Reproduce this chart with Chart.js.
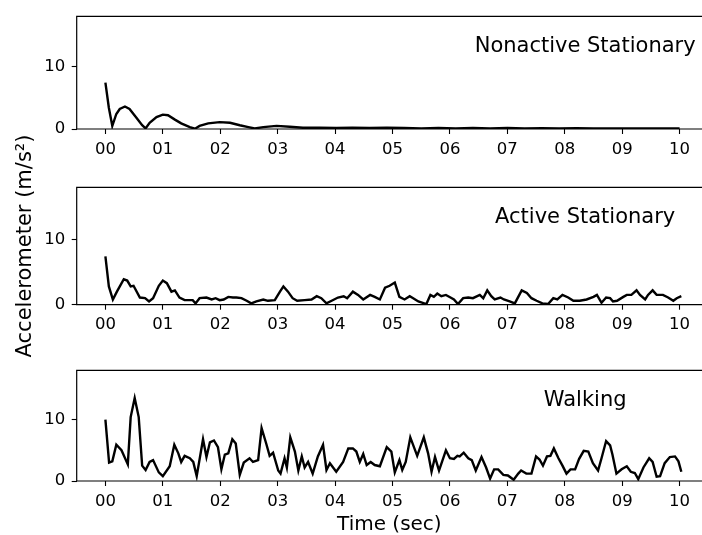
<!DOCTYPE html>
<html><head><meta charset="utf-8">
<script src="https://cdn.jsdelivr.net/npm/chart.js@4.4.1/dist/chart.umd.min.js"></script>
<style>
html,body{margin:0;padding:0;background:#fff;overflow:hidden;width:702px;height:535px;position:relative;}
canvas{position:absolute;left:0;}
</style></head><body>
<canvas id="c0"></canvas>
<canvas id="c1"></canvas>
<canvas id="c2"></canvas>
<script>
// ---- data ----
const xTickValues = [0,1,2,3,4,5,6,7,8,9,10];
const xTickLabels = ['00','01','02','03','04','05','06','07','08','09','10'];
const yTickValues = [0,10];
const panelTitles = ['Nonactive Stationary','Active Stationary','Walking'];
const xAxisTitle = 'Time (sec)';
const yAxisTitle = 'Accelerometer (m/s²)';

const nonactiveTime = [0,0.06,0.12,0.19,0.25,0.34,0.42,0.54,0.64,0.70,0.77,0.89,1.00,1.09,1.21,1.32,1.47,1.56,1.64,1.79,1.99,2.17,2.34,2.49,2.60,2.75,2.98,3.21,3.44,3.73,4.02,4.3,4.6,4.9,5.2,5.5,5.8,6.1,6.4,6.7,7.0,7.3,7.6,7.9,8.2,8.5,8.8,9.1,9.4,9.7,10.0];
const nonactiveAccel = [7.4,3.4,0.5,2.4,3.2,3.6,3.2,1.8,0.6,0.1,1.0,1.9,2.3,2.2,1.5,0.9,0.3,0.05,0.5,0.9,1.1,1.0,0.6,0.3,0.1,0.3,0.5,0.35,0.2,0.2,0.15,0.2,0.15,0.2,0.15,0.1,0.15,0.1,0.15,0.1,0.15,0.1,0.12,0.1,0.12,0.1,0.1,0.08,0.1,0.08,0.08];

const activeTime = [0,0.06,0.13,0.2,0.32,0.38,0.44,0.49,0.6,0.69,0.76,0.83,0.93,1.0,1.07,1.15,1.21,1.29,1.38,1.52,1.57,1.64,1.76,1.85,1.92,1.99,2.06,2.14,2.22,2.28,2.37,2.46,2.54,2.63,2.75,2.83,2.95,3.04,3.10,3.18,3.26,3.34,3.47,3.59,3.68,3.76,3.85,3.94,4.05,4.15,4.21,4.31,4.40,4.49,4.61,4.69,4.78,4.87,4.95,5.04,5.12,5.21,5.30,5.36,5.45,5.59,5.66,5.72,5.78,5.85,5.93,6.01,6.07,6.14,6.23,6.32,6.40,6.52,6.58,6.65,6.72,6.78,6.88,6.94,7.04,7.13,7.25,7.34,7.42,7.51,7.61,7.71,7.80,7.87,7.96,8.06,8.15,8.26,8.38,8.50,8.56,8.64,8.72,8.79,8.84,8.91,9.02,9.08,9.16,9.25,9.31,9.40,9.45,9.53,9.60,9.71,9.80,9.89,9.95,10.03];
const activeAccel = [7.4,2.8,0.8,2.0,3.9,3.7,2.8,2.9,1.1,1.0,0.5,1.0,2.9,3.7,3.3,2.0,2.2,1.1,0.7,0.7,0.2,1.0,1.1,0.8,1.0,0.7,0.8,1.2,1.1,1.1,1.0,0.6,0.2,0.5,0.8,0.6,0.7,2.0,2.8,2.0,1.0,0.6,0.7,0.8,1.3,1.0,0.2,0.6,1.1,1.3,1.0,2.0,1.5,0.8,1.5,1.2,0.8,2.6,2.9,3.4,1.2,0.8,1.3,1.0,0.5,0.1,1.5,1.2,1.7,1.3,1.5,1.1,0.8,0.1,1.0,1.1,1.0,1.5,1.0,2.2,1.3,0.8,1.1,0.8,0.5,0.2,2.2,1.8,1.0,0.6,0.2,0.1,1.0,0.8,1.5,1.1,0.6,0.6,0.8,1.2,1.5,0.3,1.1,1.0,0.5,0.6,1.2,1.5,1.5,2.2,1.5,0.8,1.5,2.2,1.5,1.5,1.1,0.6,1.0,1.3];

const walkingTime = [0,0.064,0.12,0.19,0.28,0.39,0.44,0.51,0.58,0.64,0.70,0.77,0.83,0.93,1.0,1.12,1.2,1.27,1.32,1.38,1.47,1.53,1.59,1.70,1.76,1.82,1.89,1.96,2.02,2.08,2.14,2.21,2.27,2.34,2.41,2.51,2.57,2.66,2.72,2.80,2.86,2.92,3.01,3.05,3.12,3.16,3.22,3.30,3.36,3.42,3.47,3.53,3.61,3.70,3.79,3.85,3.91,4.02,4.14,4.23,4.31,4.37,4.43,4.49,4.55,4.62,4.69,4.78,4.90,4.98,5.04,5.12,5.17,5.23,5.31,5.43,5.545,5.62,5.68,5.74,5.81,5.93,6.0,6.07,6.13,6.17,6.24,6.32,6.38,6.45,6.55,6.63,6.70,6.77,6.84,6.93,7.01,7.11,7.19,7.24,7.33,7.42,7.50,7.56,7.62,7.69,7.75,7.81,7.89,7.96,8.03,8.10,8.18,8.25,8.33,8.41,8.49,8.58,8.64,8.72,8.79,8.83,8.90,8.99,9.08,9.15,9.22,9.28,9.37,9.47,9.53,9.60,9.66,9.74,9.83,9.92,9.98,10.03];
const walkingAccel = [10.0,3.0,3.2,5.9,5.0,2.7,10.4,13.5,10.4,2.5,1.8,3.1,3.4,1.4,0.8,2.4,5.9,4.5,3.1,4.1,3.7,3.1,0.8,6.8,3.9,6.3,6.6,5.5,1.9,4.3,4.5,6.8,6.1,1.0,3.0,3.7,3.1,3.4,8.6,6.1,4.1,4.6,1.7,1.2,3.7,2.2,7.1,4.8,1.7,4.0,2.2,3.1,1.2,4.0,5.9,1.8,2.9,1.5,3.1,5.3,5.3,4.8,3.1,4.4,2.6,3.1,2.6,2.4,5.5,4.8,1.4,3.4,1.8,3.1,7.1,4.1,7.1,4.5,1.5,3.9,1.7,5.0,3.7,3.6,4.1,4.0,4.6,3.7,3.4,1.7,3.9,2.2,0.4,1.9,1.9,1.0,0.9,0.2,1.2,1.7,1.2,1.2,4.0,3.5,2.5,4.0,4.1,5.3,3.7,2.5,1.2,1.9,1.9,3.6,4.9,4.8,2.9,1.7,3.7,6.5,5.8,4.3,1.2,1.9,2.4,1.5,1.3,0.3,2.2,3.7,3.1,0.7,0.8,2.9,3.9,4.0,3.2,1.5];

// ---- layout ----
const FONT = '"DejaVu Sans", sans-serif';
const CW = 702, yAxisW = 76.7;
const xMin = -0.5, xMax = 10.39;   // right side of the axes is cut off by the picture edge
const panels = [
  {id:'c0', top:0,   padTop:12,   plotH:117,   xh:40, extra:0,  time:nonactiveTime, vals:nonactiveAccel, title:panelTitles[0], yTitle:false, xTitle:false},
  {id:'c1', top:120, padTop:67.3, plotH:117.4, xh:40, extra:22, time:activeTime,    vals:activeAccel,    title:panelTitles[1], yTitle:true,  xTitle:false},
  {id:'c2', top:354, padTop:10.3, plotH:116.7, xh:54, extra:0,  time:walkingTime,   vals:walkingAccel,   title:panelTitles[2], yTitle:false, xTitle:true}
];

const panelDecor = {
  id: 'panelDecor',
  afterDraw(chart, args, opts) {
    const {ctx, chartArea: a} = chart;
    ctx.save();
    ctx.strokeStyle = '#000';
    ctx.lineWidth = 1.2;
    ctx.beginPath();
    ctx.moveTo(a.right + 2, a.top);
    ctx.lineTo(a.left, a.top);
    ctx.lineTo(a.left, a.bottom);
    ctx.lineTo(a.right + 2, a.bottom);
    ctx.stroke();
    ctx.font = '21px ' + FONT;
    ctx.fillStyle = '#000';
    ctx.textAlign = 'center';
    ctx.textBaseline = 'alphabetic';
    const fullW = (a.right - a.left) * (10.5 - xMin) / (xMax - xMin);
    ctx.fillText(opts.text, a.left + 0.805 * fullW, a.top + 35.5);
    ctx.restore();
  }
};

panels.forEach(p => {
  const cv = document.getElementById(p.id);
  const total = p.padTop + p.plotH + p.xh + p.extra;
  const H = Math.ceil(total);
  cv.width = CW; cv.height = H;
  cv.style.top = p.top + 'px';
  cv.style.width = CW + 'px'; cv.style.height = H + 'px';
  new Chart(cv, {
    type: 'line',
    data: { datasets: [{
      data: p.time.map((t, i) => ({x: t, y: p.vals[i]})),
      borderColor: '#000', borderWidth: 2.4, pointRadius: 0, tension: 0, fill: false
    }]},
    options: {
      responsive: false, animation: false, devicePixelRatio: 1,
      layout: { padding: { top: p.padTop, right: 0, left: 0, bottom: H - p.padTop - p.plotH - p.xh } },
      plugins: { legend: {display: false}, tooltip: {enabled: false}, title: {display: false},
                 panelDecor: { text: p.title } },
      scales: {
        x: {
          type: 'linear', min: xMin, max: xMax,
          afterBuildTicks: s => { s.ticks = xTickValues.map(v => ({value: v})); },
          afterFit: s => { s.height = p.xh; },
          ticks: { callback: v => xTickLabels[xTickValues.indexOf(v)], color: '#000',
                   font: {family: FONT, size: 16.5, lineHeight: 1.2}, padding: 5.5, maxRotation: 0, autoSkip: false },
          grid: { display: true, drawOnChartArea: false, drawTicks: true, tickLength: 5, tickColor: '#000', tickWidth: 1.1 },
          border: { display: false },
          title: { display: p.xTitle, text: xAxisTitle, color: '#000',
                   font: {family: FONT, size: 20, lineHeight: 1}, padding: {top: 0, bottom: 0} }
        },
        y: {
          min: 0, max: 18,
          afterBuildTicks: s => { s.ticks = yTickValues.map(v => ({value: v})); },
          afterFit: s => { s.width = yAxisW; },
          ticks: { color: '#000', font: {family: FONT, size: 16.5}, padding: 6.5 },
          grid: { display: true, drawOnChartArea: false, drawTicks: true, tickLength: 5, tickColor: '#000', tickWidth: 1.1 },
          border: { display: false },
          title: { display: p.yTitle, text: yAxisTitle, color: '#000',
                   font: {family: FONT, size: 21, lineHeight: 1}, padding: {top: 15.5, bottom: 0} }
        }
      }
    },
    plugins: [panelDecor]
  });
});
</script></body></html>
